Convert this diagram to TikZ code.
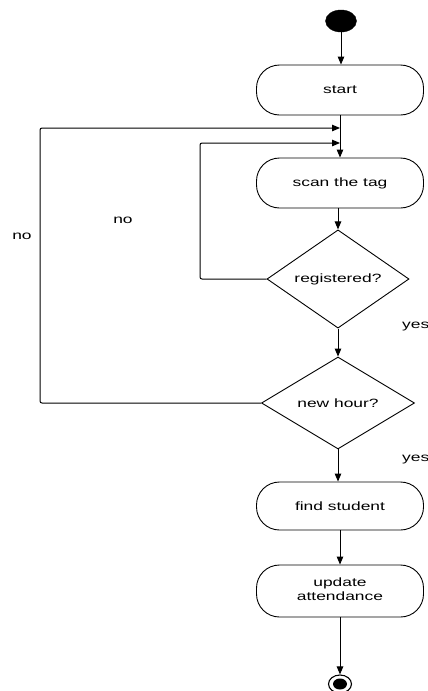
\documentclass[tikz,border=0pt]{standalone}
\usepackage{fontspec}
\setmainfont{Liberation Sans}
\usetikzlibrary{shapes.geometric,arrows.meta,positioning}

\newcommand{\widetxt}[1]{\scalebox{1.45}[1]{#1}}

\tikzset{
  act/.style={draw, line width=0.9pt, rounded corners=23pt, minimum width=167pt,
    minimum height=50pt, inner sep=0pt, align=center,
    font=\fontsize{12}{14}\selectfont},
  choice/.style={draw, line width=0.9pt, diamond, inner sep=0pt,
    font=\fontsize{12}{14}\selectfont},
  flow/.style={line width=1pt, -{Triangle[length=8pt,width=6.5pt]}},
  lbl/.style={font=\fontsize{12}{14}\selectfont, inner sep=0pt},
}

\begin{document}
\begin{tikzpicture}[x=1pt,y=-1pt]

\useasboundingbox (0,0) rectangle (428,691) ;

\node[draw, fill=black, ellipse, minimum width=31pt, minimum height=22pt] (init) at (341,21) {} ;

\node[act] (start) at (340,90) {\widetxt{start}} ;
\node[act] (scan) at (340,183) {\widetxt{scan the tag}} ;
\node[choice, minimum width=142pt, minimum height=92pt] (reg) at (338,279) {\widetxt{registered?}} ;
\node[choice, minimum width=153pt, minimum height=92pt] (hour) at (338,403) {\widetxt{new hour?}} ;
\node[act, minimum height=48pt] (find) at (340,506) {\widetxt{find student}} ;
\node[act, minimum height=52pt] (update) at (340,591)
  {\widetxt{\begin{tabular}{@{}c@{}}update\\attendance\end{tabular}}} ;

\node[draw, line width=1.1pt, ellipse, minimum width=23pt, minimum height=18pt, fill=white] (final) at (340,684) {} ;
\node[fill=black, ellipse, minimum width=14pt, minimum height=11pt, inner sep=0pt] (finaldot) at (final.center) {} ;

\coordinate (outerjoin) at (start.south |- 0,128) ;
\coordinate (innerjoin) at (start.south |- 0,143) ;

\draw[flow] (init) -- (init |- start.north) ;
\draw[flow] (start) -- (scan) ;
\draw[flow] (reg.north |- scan.south) -- (reg.north) ;
\draw[flow] (reg.south) -- (hour.north) ;
\draw[flow] (hour.south) -- (hour.south |- find.north) ;
\draw[flow] (find) -- (update) ;
\draw[flow] (update) -- (final) ;

% loops back
\draw[flow, rounded corners=2pt] (reg.west) -- (200,279) -- (200,143) -- (innerjoin) ;
\draw[flow, rounded corners=2pt] (hour.west) -- (40,403) -- (40,128) -- (outerjoin) ;

\node[lbl] (noreg) at (123,220) {\widetxt{no}} ;
\node[lbl] (nohour) at (22,236) {\widetxt{no}} ;
\node[lbl, anchor=west] (yesreg) at (402,327) {\widetxt{yes}} ;
\node[lbl, anchor=west] (yeshour) at (402,460) {\widetxt{yes}} ;

\end{tikzpicture}
\end{document}
